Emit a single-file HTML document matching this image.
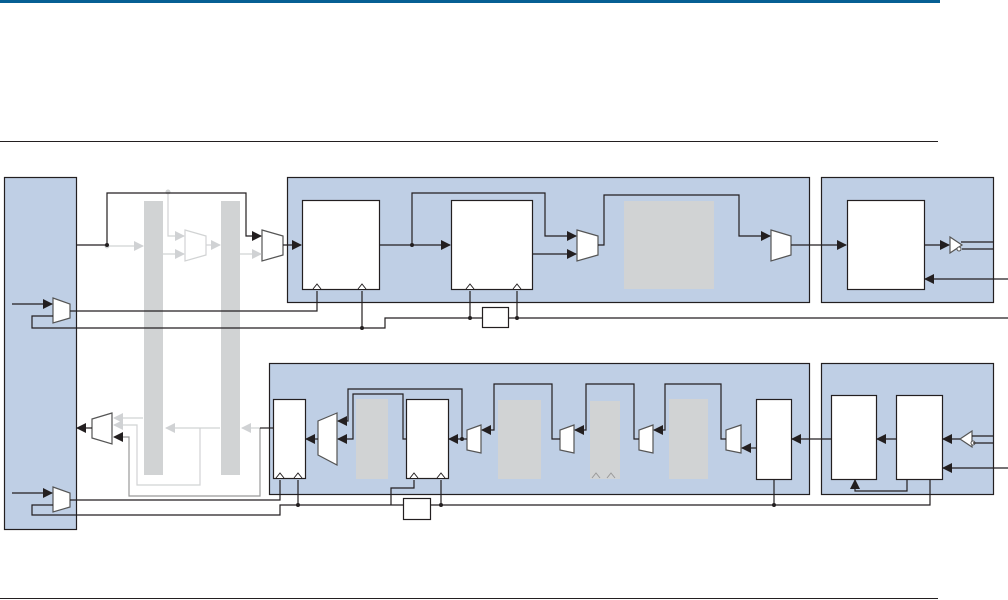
<!DOCTYPE html>
<html><head><meta charset="utf-8"><style>
html,body{margin:0;padding:0;background:#fff;}
svg{display:block;}
</style></head><body>
<svg width="1008" height="600" viewBox="0 0 1008 600" xmlns="http://www.w3.org/2000/svg">
<defs>
<marker id="a" markerWidth="10" markerHeight="10" refX="9" refY="5" orient="auto" markerUnits="userSpaceOnUse"><path d="M0,0 L10,5 L0,10 z" fill="#231f20"/></marker>
<marker id="g" markerWidth="10" markerHeight="10" refX="9" refY="5" orient="auto" markerUnits="userSpaceOnUse"><path d="M0,0 L10,5 L0,10 z" fill="#d0d2d4"/></marker>
</defs>
<rect x="0" y="0" width="940" height="3" fill="#065f94"/>
<line x1="0" y1="141.5" x2="938" y2="141.5" stroke="#231f20" stroke-width="1"/>
<line x1="0" y1="598.5" x2="938" y2="598.5" stroke="#231f20" stroke-width="1"/>

<g stroke="#231f20" stroke-width="1.2" fill="#bfcfe5">
<rect x="4.5" y="177.5" width="72" height="352"/>
<rect x="287.5" y="177.5" width="522" height="125"/>
<rect x="821.5" y="177.5" width="172" height="125"/>
<rect x="269.5" y="363.5" width="540" height="131"/>
<rect x="821.5" y="363.5" width="172" height="131"/>
</g>
<g fill="#d1d3d4">
<rect x="144" y="201" width="19" height="274"/>
<rect x="221" y="201" width="19" height="274"/>
<rect x="624" y="201" width="90" height="88"/>
<rect x="356" y="399" width="32" height="80"/>
<rect x="498" y="400" width="43" height="79"/>
<rect x="590" y="401" width="30" height="78"/>
<rect x="669" y="399" width="39" height="80"/>
</g>
<g stroke="#231f20" stroke-width="1.2" fill="#fff">
<rect x="302.5" y="200.5" width="77" height="89"/>
<rect x="451.5" y="200.5" width="81" height="89"/>
<rect x="847.5" y="200.5" width="77" height="89"/>
<rect x="273.5" y="399.5" width="32" height="79"/>
<rect x="406.5" y="399.5" width="42" height="79"/>
<rect x="756.5" y="399.5" width="35" height="80"/>
<rect x="831.5" y="395.5" width="45" height="84"/>
<rect x="896.5" y="395.5" width="46" height="84"/>
<rect x="482.5" y="307.5" width="26" height="20"/>
<rect x="403.5" y="498.5" width="27" height="21"/>
</g>
<!-- muxes -->
<g stroke="#555" stroke-width="1.2" fill="#fff">
<path d="M262,230 L283,236 L283,255 L262,261 z"/>
<path d="M577,230 L598,236 L598,255 L577,261 z"/>
<path d="M771,230 L791,236 L791,255 L771,261 z"/>
<path d="M53,298 L70,304 L70,318 L53,323 z"/>
<path d="M53,487 L70,493 L70,507 L53,512 z"/>
<path d="M112,413 L92,419 L92,438 L112,444 z" />
<path d="M337,413 L318,421 L318,455 L337,465 z"/>
<path d="M481,425 L467,430 L467,450 L481,453 z"/>
<path d="M574,425 L560,430 L560,450 L574,453 z"/>
<path d="M653,425 L639,430 L639,450 L653,453 z"/>
<path d="M741,425 L726,430 L726,450 L741,453 z"/>
<path d="M950,237 L962,245 L950,253 z"/>
<path d="M972,431 L960,439 L972,447 z"/>
</g>
<path d="M185,230 L206,236 L206,255 L185,261 z" fill="#fff" stroke="#d1d3d4" stroke-width="1.2"/>
<circle cx="959" cy="249" r="2" fill="#fff" stroke="#555"/>
<circle cx="973" cy="443" r="2" fill="#fff" stroke="#555"/>
<!-- light grey paths -->
<g stroke="#d1d3d4" stroke-width="1.2" fill="none">
<path d="M107,246 L143,246" marker-end="url(#g)"/>
<path d="M168,193 L168,236 L184,236" marker-end="url(#g)"/>
<path d="M163,254 L184,254" marker-end="url(#g)"/>
<path d="M206,245 L220,245" marker-end="url(#g)"/>
<path d="M240,254 L261,254" marker-end="url(#g)"/>
<path d="M143,418 L114,418" marker-end="url(#g)"/>
<path d="M220,428 L166,428" marker-end="url(#g)"/>
<path d="M260,428 L242,428" marker-end="url(#g)"/>
<path d="M200,428 L200,485 L137,485 L137,425 L114,425"  marker-end="url(#g)"/>
</g>
<circle cx="168" cy="192" r="2.5" fill="#d1d3d4"/>
<circle cx="107" cy="246" r="2.5" fill="#d1d3d4"/>
<path d="M260,428 L260,496 L129,496 L129,437 L114,437" stroke="#999" stroke-width="1.2" fill="none" marker-end="url(#a)"/>
<!-- dark paths -->
<g stroke="#231f20" stroke-width="1.2" fill="none">
<path d="M76,245 L107,245 L107,193 L246,193 L246,236 L261,236" marker-end="url(#a)"/>
<path d="M283,245 L301,245" marker-end="url(#a)"/>
<path d="M379,245 L450,245" marker-end="url(#a)"/>
<path d="M412,245 L412,193 L545,193 L545,236 L576,236" marker-end="url(#a)"/>
<path d="M532,254 L576,254" marker-end="url(#a)"/>
<path d="M598,245 L604,245 L604,195 L739,195 L739,236 L770,236" marker-end="url(#a)"/>
<path d="M791,245 L846,245" marker-end="url(#a)"/>
<path d="M924,245 L949,245" marker-end="url(#a)"/>
<path d="M961,242 L993,242 M962,249 L993,249"/>
<path d="M1008,279 L925,279" marker-end="url(#a)"/>
<path d="M12,304 L52,304" marker-end="url(#a)"/>
<path d="M70,311 L317,311 L317,291"/>
<path d="M53,316 L32,316 L32,328 L385,328 L385,318 L482,318"/>
<path d="M362,291 L362,328"/>
<path d="M470,291 L470,318"/>
<path d="M508,318 L1008,318"/>
<path d="M517,291 L517,318"/>
<!-- bottom -->
<path d="M92,428 L77,428" marker-end="url(#a)"/>
<path d="M260,428 L273,428"/>
<path d="M318,439 L306,439" marker-end="url(#a)"/>
<path d="M462,439 L462,389 L348,389 L348,421 L338,421" marker-end="url(#a)"/>
<path d="M406,439 L403,439 L403,394 L353,394 L353,439 L338,439" marker-end="url(#a)"/>
<path d="M467,439 L449,439" marker-end="url(#a)"/>
<path d="M560,439 L552,439 L552,384 L494,384 L494,430 L482,430" marker-end="url(#a)"/>
<path d="M639,439 L634,439 L634,384 L586,384 L586,430 L575,430" marker-end="url(#a)"/>
<path d="M726,439 L721,439 L721,384 L665,384 L665,430 L654,430" marker-end="url(#a)"/>
<path d="M756,448 L742,448" marker-end="url(#a)"/>
<path d="M831,439 L792,439" marker-end="url(#a)"/>
<path d="M896,439 L877,439" marker-end="url(#a)"/>
<path d="M960,439 L943,439" marker-end="url(#a)"/>
<path d="M972,436 L993,436 M973,443 L993,443"/>
<path d="M1008,468 L943,468" marker-end="url(#a)"/>
<path d="M907,479 L907,491 L855,491 L855,480" marker-end="url(#a)"/>
<path d="M12,493 L52,493" marker-end="url(#a)"/>
<path d="M70,500 L280,500 L280,480"/>
<path d="M53,505 L32,505 L32,515 L280,515 L280,505 L403,505"/>
<path d="M298,480 L298,505"/>
<path d="M414,480 L414,488 L391,488 L391,505"/>
<path d="M431,505 L930,505 L930,479"/>
<path d="M441,480 L441,505"/>
<path d="M774,479 L774,505"/>
</g>
<g fill="#fff" stroke="#231f20" stroke-width="1">
<path d="M313,289 L317,284 L321,289"/><path d="M358,289 L362,284 L366,289"/>
<path d="M466,289 L470,284 L474,289"/><path d="M513,289 L517,284 L521,289"/>
<path d="M276,478 L280,473 L284,478"/><path d="M294,478 L298,473 L302,478"/>
<path d="M410,478 L414,473 L418,478"/><path d="M437,478 L441,473 L445,478"/>
</g>
<g fill="none" stroke="#999" stroke-width="1"><path d="M592,478 L596,473 L600,478"/><path d="M607,478 L611,473 L615,478"/></g>
<g fill="#231f20">
<circle cx="107" cy="245" r="2"/><circle cx="412" cy="245" r="2"/>
<circle cx="362" cy="328" r="2"/><circle cx="470" cy="318" r="2"/><circle cx="517" cy="318" r="2"/>
<circle cx="462" cy="439" r="2"/><circle cx="298" cy="505" r="2"/><circle cx="441" cy="505" r="2"/><circle cx="774" cy="505" r="2"/>
</g>
</svg>
</body></html>
